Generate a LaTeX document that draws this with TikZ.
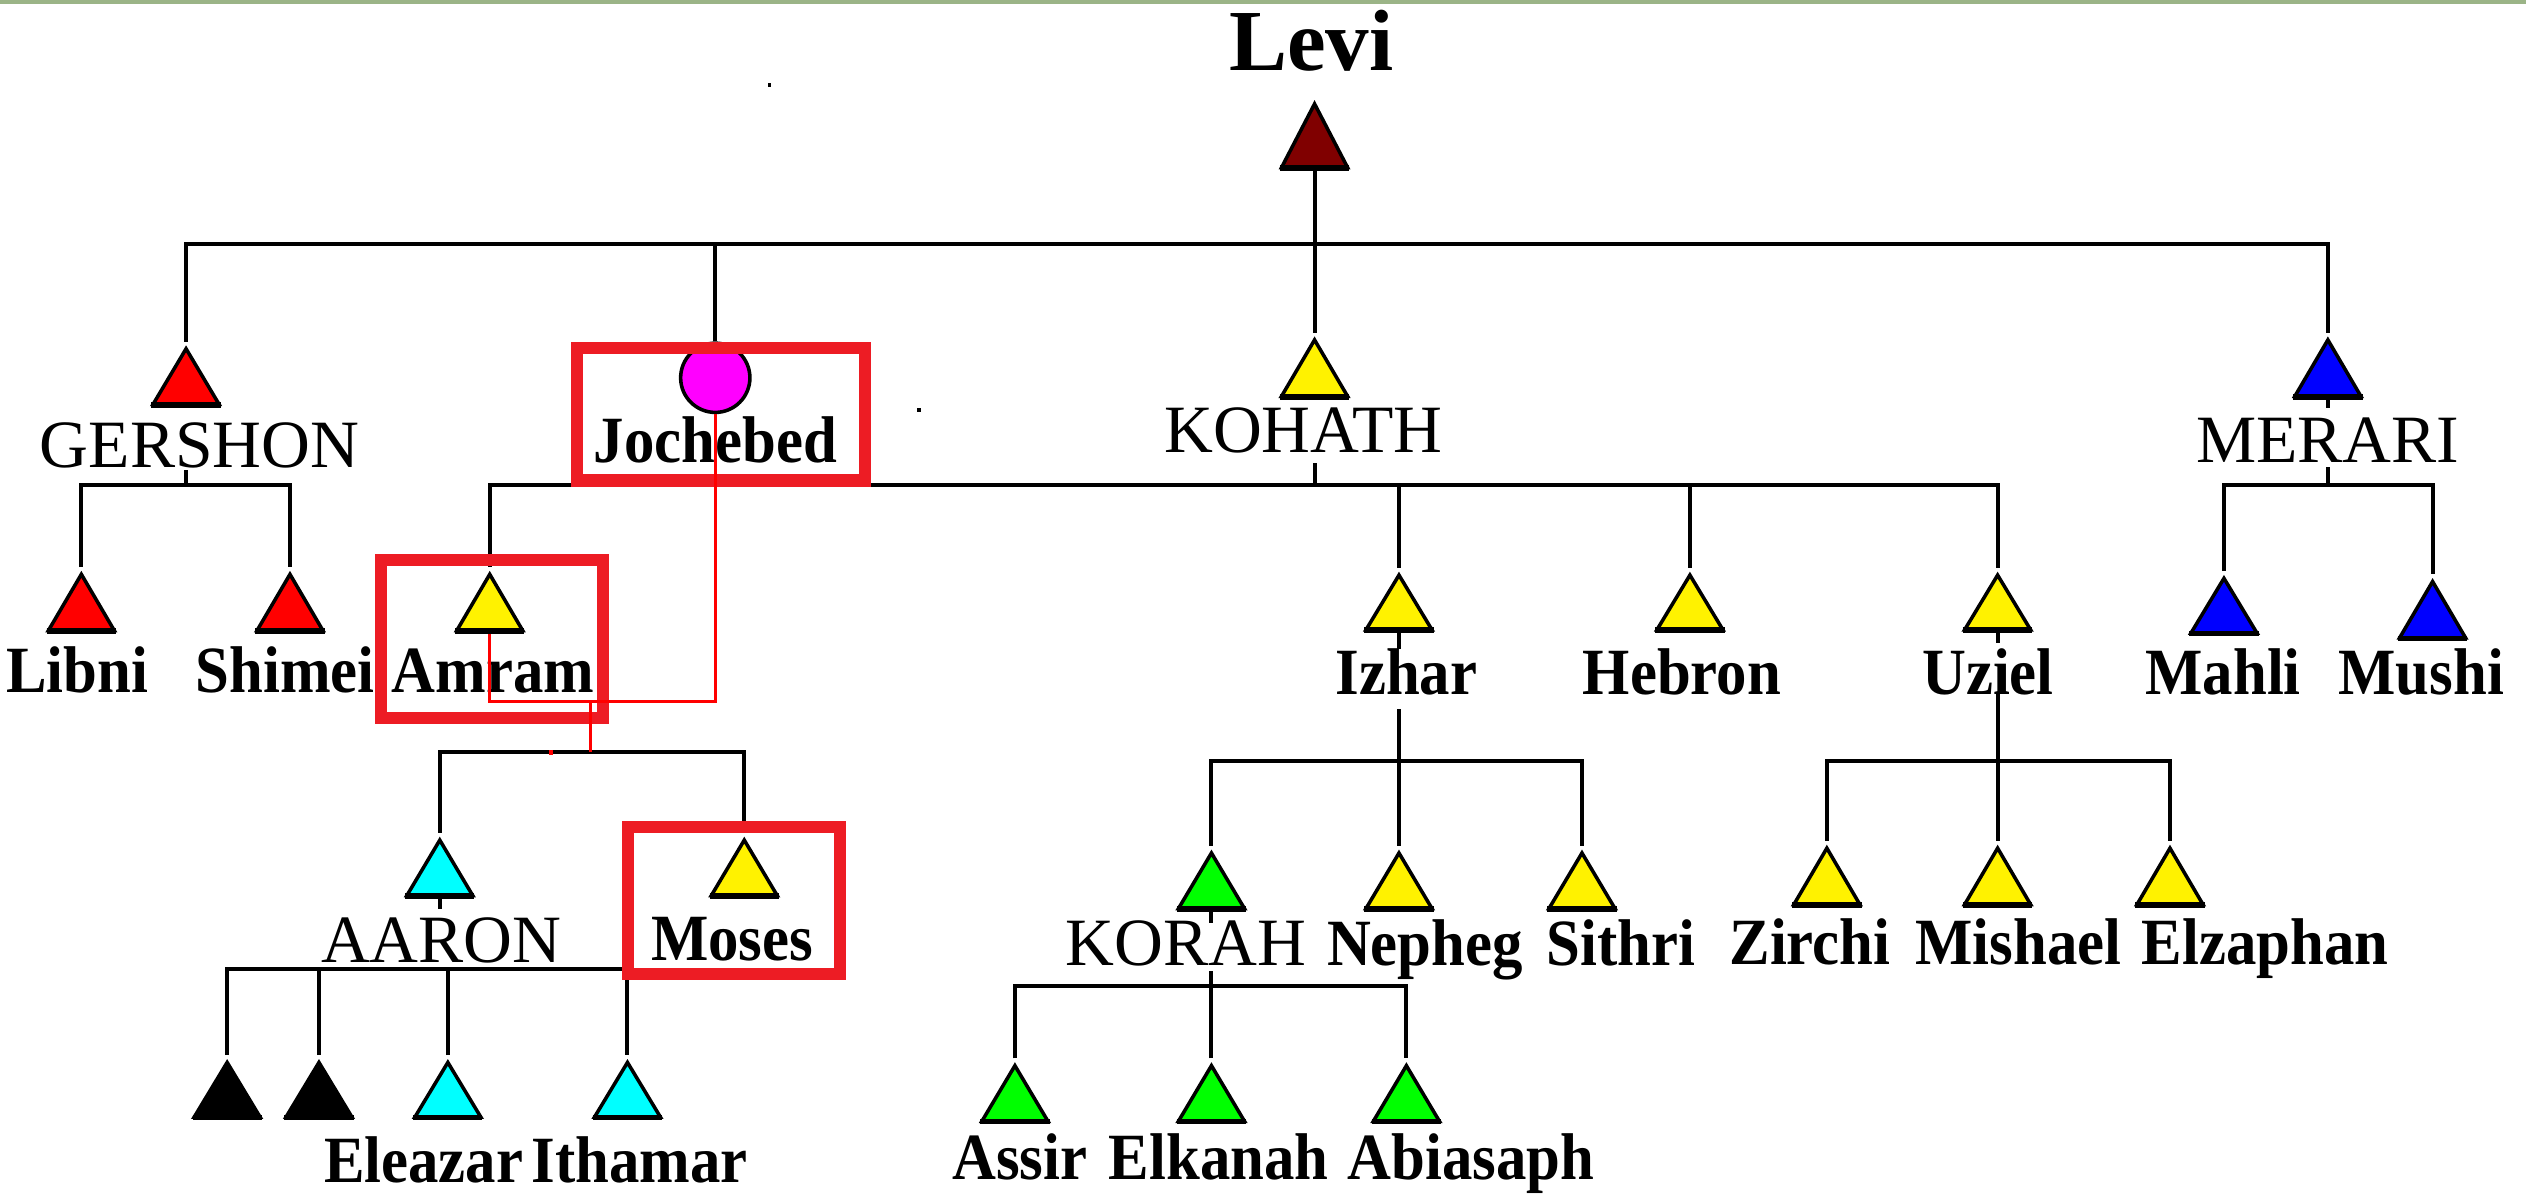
\documentclass[tikz,border=0pt]{standalone}
\usepackage{fontspec}
\setmainfont{Liberation Serif}
\newfontfamily\narrowserif{Liberation Serif}[FakeStretch=0.92]
\definecolor{levired}{RGB}{128,0,0}
\definecolor{boxred}{RGB}{237,28,36}
\definecolor{leaf}{RGB}{0,255,0}
\definecolor{aqua}{RGB}{0,255,255}
\definecolor{fuchsia}{RGB}{255,0,255}
\definecolor{topgreen}{RGB}{155,180,135}

% name, x, top, bottom, colour
\newcommand{\person}[5]{%
	\filldraw[fill=#5, line width=2.2pt] (#2,#3+4.5) -- (#2+20.5,#4-2) -- (#2-20.5,#4-2) -- cycle;
	\draw[line width=3.5pt] (#2-21.5,#4-1.75) -- (#2+21.5,#4-1.75);
	\coordinate (#1) at (#2,#3);
	\coordinate (#1-b) at (#2,#4);
}

\begin{document}
\begin{tikzpicture}[x=1pt,y=-1pt,
	kin/.style={line width=2.5pt},
	bond/.style={red, line width=1.8pt},
	hilite/.style={draw=boxred, line width=7.5pt},
	lead/.style={font=\fontsize{54}{54}\selectfont\bfseries, anchor=base, inner sep=0pt},
	clan/.style={font=\fontsize{42}{42}\selectfont, anchor=base, inner sep=0pt},
	lbl/.style={font=\narrowserif\fontsize{41}{41}\selectfont\bfseries, anchor=base, inner sep=0pt}]

	\useasboundingbox (0,0) rectangle (1568,741);
	\draw[topgreen, line width=2.5pt] (0,1.25) -- (1568,1.25);

	\person{levi}{816}{60}{106}{levired}
	\person{gershon}{115.5}{212}{253}{red}
	\person{kohath}{816}{206.5}{248}{yellow}
	\person{merari}{1445}{206.5}{248}{blue}
	\person{libni}{50.5}{352}{393.5}{red}
	\person{shimei}{180}{352}{393.5}{red}
	\person{amram}{304}{352}{393.5}{yellow}
	\person{izhar}{868.4}{352.5}{393}{yellow}
	\person{hebron}{1049}{352.5}{393}{yellow}
	\person{uziel}{1240}{352.5}{393}{yellow}
	\person{mahli}{1380.5}{354.5}{395}{blue}
	\person{mushi}{1510}{356.5}{398}{blue}
	\person{aaron}{273}{517}{558}{aqua}
	\person{moses}{462}{517}{558}{yellow}
	\person{korah}{752}{525}{566}{leaf}
	\person{nepheg}{868.4}{525}{566}{yellow}
	\person{sithri}{982}{525}{566}{yellow}
	\person{zirchi}{1134}{522}{563.5}{yellow}
	\person{mishael}{1240}{522}{563.5}{yellow}
	\person{elzaphan}{1347}{522}{563.5}{yellow}
	\person{nadab}{141}{655}{695.5}{black}
	\person{abihu}{198}{655}{695.5}{black}
	\person{eleazar}{278}{655}{695.5}{aqua}
	\person{ithamar}{389.5}{655}{695.5}{aqua}
	\person{assir}{630}{657}{698}{leaf}
	\person{elkanah}{752}{657}{698}{leaf}
	\person{abiasaph}{873}{657}{698}{leaf}

	\node[circle, draw, fill=fuchsia, line width=2.2pt, minimum size=43pt, inner sep=0pt] (jochebed) at (444,234.5) {};

	\coordinate (levi-bar) at (816,151.5);
	\coordinate (g-bar) at (115.5,301);
	\coordinate (k-bar) at (816,301);
	\coordinate (m-bar) at (1445,301);
	\coordinate (am-bar) at (366.5,467);
	\coordinate (a-bar) at (274,601.5);
	\coordinate (i-bar) at (868.4,472.5);
	\coordinate (i-top) at (868.4,440);
	\coordinate (u-bar) at (1240,472.5);
	\coordinate (u-top) at (1240,429.5);
	\coordinate (r-bar) at (752,612);
	\coordinate (union) at (366.5,435.5);

	\draw[kin] (levi-b) -- (kohath);
	\draw[kin] (gershon) |- (levi-bar) -| (merari);
	\draw[kin] (jochebed.north) -- (jochebed.north |- levi-bar);

	\draw[kin] (libni) |- (g-bar) -| (shimei);
	\draw[kin] (g-bar) -- ++(0,-9);
	\draw[kin] (amram) |- (k-bar) -| (uziel);
	\draw[kin] (izhar) -- (izhar |- k-bar);
	\draw[kin] (hebron) -- (hebron |- k-bar);
	\draw[kin] (k-bar) -- ++(0,-13.5);
	\draw[kin] (mahli) |- (m-bar) -| (mushi);
	\draw[kin] (m-bar) -- ++(0,-11);
	\draw[kin] (merari-b) -- ++(0,5);

	\draw[kin] (aaron) |- (am-bar) -| (moses);
	\draw[kin] (aaron-b) -- ++(0,6);
	\draw[kin] (nadab) |- (a-bar) -| (ithamar);
	\draw[kin] (abihu) -- (abihu |- a-bar);
	\draw[kin] (eleazar) -- (eleazar |- a-bar);

	\draw[kin] (korah) |- (i-bar) -| (sithri);
	\draw[kin] (izhar-b) -- ++(0,10);
	\draw[kin] (nepheg) -- (i-top);
	\draw[kin] (korah-b) -- ++(0,7);
	\draw[kin] (assir) |- (r-bar) -| (abiasaph);
	\draw[kin] (elkanah) -- (r-bar) -- ++(0,-9);

	\draw[kin] (zirchi) |- (u-bar) -| (elzaphan);
	\draw[kin] (uziel-b) -- ++(0,6);
	\draw[kin] (mishael) -- (u-top);

	\draw[hilite] (358.25,215.75) rectangle (536.85,298.25);
	\draw[hilite] (236.5,347.75) rectangle (374.2,445.75);
	\draw[hilite] (389.75,513.35) rectangle (521.25,604.55);

	\node[lead] (levi-l) at (814,44) {Levi};
	\node[clan] (gershon-l) at (124,290) {GERSHON};
	\node[lbl] (jochebed-l) at (444,287) {Jochebed};
	\node[clan] (kohath-l) at (809,281) {KOHATH};
	\node[clan] (merari-l) at (1445,287) {MERARI};
	\node[lbl] (libni-l) at (48,430) {Libni};
	\node[lbl] (shimei-l) at (177,430) {Shimei};
	\node[lbl] (amram-l) at (306,430) {Amram};
	\node[lbl] (izhar-l) at (873,431) {Izhar};
	\node[lbl] (hebron-l) at (1044,431) {Hebron};
	\node[lbl] (uziel-l) at (1234,431) {Uziel};
	\node[lbl] (mahli-l) at (1380,431) {Mahli};
	\node[lbl] (mushi-l) at (1503,431) {Mushi};
	\node[clan] (aaron-l) at (274,597.5) {AARON};
	\node[lbl] (moses-l) at (454.5,596) {Moses};
	\node[clan] (korah-l) at (736,599.5) {KORAH};
	\node[lbl] (nepheg-l) at (884.5,599.5) {Nepheg};
	\node[lbl] (sithri-l) at (1006,599.5) {Sithri};
	\node[lbl] (zirchi-l) at (1123.5,599) {Zirchi};
	\node[lbl] (mishael-l) at (1253,599) {Mishael};
	\node[lbl] (elzaphan-l) at (1406,599) {Elzaphan};
	\node[lbl] (eleazar-l) at (263,734) {Eleazar};
	\node[lbl] (ithamar-l) at (397,734) {Ithamar};
	\node[lbl] (assir-l) at (633,732) {Assir};
	\node[lbl] (elkanah-l) at (756.5,732) {Elkanah};
	\node[lbl] (abiasaph-l) at (913,732) {Abiasaph};

	\draw[bond] (jochebed.south) |- (union) -| (amram-b);
	\draw[bond] (union) -- (am-bar);
	\fill[red] (341,465.5) rectangle (343.5,468.5);

	\fill (476.5,51.5) rectangle (478.5,54);
	\fill (569,253) rectangle (571.5,256);

\end{tikzpicture}
\end{document}
